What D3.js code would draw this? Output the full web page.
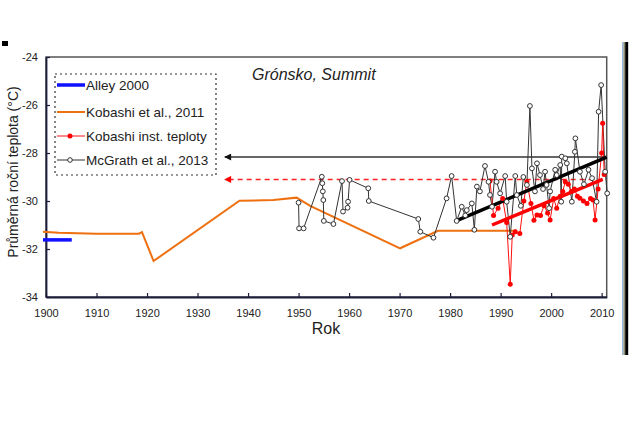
<!DOCTYPE html>
<html><head><meta charset="utf-8">
<script src="https://cdn.jsdelivr.net/npm/d3@7"></script>
<style>body{margin:0;background:#fff;}svg{display:block;font-family:"Liberation Sans",Arial,sans-serif;}</style>
</head><body>
<svg id="c" width="630" height="424"></svg>
<script>
const xTicks = [1900,1910,1920,1930,1940,1950,1960,1970,1980,1990,2000,2010];
const yTicks = [-34,-32,-30,-28,-26,-24];

const alleyYears = [1899.4, 1905.1];
const alleyValues = [-31.62, -31.62];

const kobashiYears = [1899.4,1902.5,1910,1918.4,1919.0,1921.3,1938.3,1945,1949.6,1952.3,1970.1,1977.6,1993.2];
const kobashiValues = [-31.28,-31.32,-31.36,-31.36,-31.3,-32.5,-29.99,-29.96,-29.86,-30.2,-31.97,-31.24,-31.24];

const instYears = [1987.9,1988.6,1989.5,1990.4,1991.2,1991.9,1992.3,1992.9,1993.8,1994.6,1995.2,1996.0,1996.6,1997.2,1997.9,1998.6,1999.3,1999.8,2000.5,2001.1,2001.8,2002.3,2002.8,2003.4,2004.0,2004.6,2005.2,2005.7,2006.4,2007.1,2007.8,2008.3,2008.7,2009.3,2010.0,2010.2,2010.5];
const instValues = [-29.17,-30.6,-30.3,-29.9,-30.9,-33.47,-31.42,-31.28,-31.35,-30.0,-29.2,-30.1,-30.8,-30.58,-30.6,-30.2,-30.5,-30.79,-29.9,-30.3,-29.8,-29.6,-29.2,-29.3,-29.6,-29.5,-29.8,-29.89,-30.0,-30.1,-29.9,-29.96,-30.79,-29.5,-28.0,-26.76,-28.9];

const mcgYears = [1950.0,1950.1,1951.0,1954.6,1954.7,1954.8,1954.9,1955.0,1956.9,1958.6,1958.8,1959.7,1959.8,1960.1,1963.8,1963.9,1973.7,1974.1,1976.7,1979.3,1980.3,1981.3,1982.3,1983.0,1983.3,1984.3,1984.8,1985.3,1985.9,1986.9,1987.6,1987.9,1988.3,1988.9,1989.2,1989.9,1990.9,1991.2,1991.9,1992.9,1993.2,1994.0,1994.5,1995.2,1995.8,1996.2,1996.8,1997.2,1997.8,1998.4,1998.8,1999.1,1999.6,1999.8,2000.8,2001.1,2001.8,2002.0,2002.1,2002.8,2003.1,2004.1,2004.7,2004.8,2005.7,2006.5,2007.4,2008.1,2009.0,2009.4,2009.9,2010.7,2011.1];
const mcgValues = [-30.07,-31.14,-31.14,-28.99,-29.26,-29.6,-29.96,-30.83,-30.96,-29.17,-30.44,-30.28,-30.03,-29.12,-29.47,-30.0,-30.75,-31.28,-31.53,-29.89,-28.96,-30.83,-30.24,-30.6,-30.38,-30.1,-31.2,-29.4,-29.6,-28.54,-29.2,-29.75,-30.24,-28.78,-29.2,-29.68,-28.96,-30.03,-31.49,-28.96,-29.75,-30.2,-29.0,-29.33,-26.04,-28.64,-29.6,-28.43,-28.92,-29.5,-28.78,-29.33,-30.3,-29.6,-28.7,-28.92,-28.5,-30.03,-28.15,-28.22,-28.43,-30.03,-27.95,-27.39,-28.78,-29.3,-28.7,-29.05,-30.03,-26.28,-25.17,-28.78,-29.68];

const blackTrendYears = [1981.3, 2011];
const blackTrendValues = [-30.82, -28.17];
const redTrendYears = [1988.3, 2010.2];
const redTrendValues = [-31.0, -29.1];
const blackArrowYears = [2011, 1935.4];
const blackArrowValue = -28.17;
const redArrowYears = [2010.2, 1935.4];
const redArrowValue = -29.1;

const legendLabels = ["Alley 2000","Kobashi et al., 2011","Kobashi inst. teploty","McGrath et al., 2013"];

const svg = d3.select("#c");
const x = d3.scaleLinear().domain([1900, 2011]).range([46, 606.7]);
const y = d3.scaleLinear().domain([-34, -24]).range([297, 57]);

const defs = svg.append("defs");
defs.append("marker").attr("id","ab").attr("viewBox","0 0 10 10").attr("refX",9).attr("refY",5)
  .attr("markerWidth",9).attr("markerHeight",7).attr("markerUnits","userSpaceOnUse").attr("orient","auto")
  .append("path").attr("d","M0,0L10,5L0,10Z").attr("fill","#111");
defs.append("marker").attr("id","ar").attr("viewBox","0 0 10 10").attr("refX",9).attr("refY",5)
  .attr("markerWidth",9).attr("markerHeight",7).attr("markerUnits","userSpaceOnUse").attr("orient","auto")
  .append("path").attr("d","M0,0L10,5L0,10Z").attr("fill","#ff0000");

// slide artifacts
svg.append("rect").attr("x",2).attr("y",41).attr("width",6).attr("height",5).attr("fill","#000");
svg.append("rect").attr("x",622.3).attr("y",42).attr("width",1).attr("height",313).attr("fill","#6fa0d0");
svg.append("rect").attr("x",623.5).attr("y",42).attr("width",1.6).attr("height",313).attr("fill","#8c8a6a");
svg.append("rect").attr("x",625.2).attr("y",42).attr("width",3).attr("height",313).attr("fill","#000");

// frame
svg.append("rect").attr("x",46).attr("y",57).attr("width",606.7-46).attr("height",240)
  .attr("fill","none").attr("stroke","#555").attr("stroke-width",1.5);

const line = d3.line().x(d=>x(d[0])).y(d=>y(d[1]));
const zip = (a,b)=>a.map((v,i)=>[v,b[i]]);

// axes
const xa = svg.append("g").attr("transform","translate(0,297)")
  .call(d3.axisBottom(x).tickValues(xTicks).tickFormat(d3.format("d")).tickSizeInner(-4).tickSizeOuter(0).tickPadding(12));
const ya = svg.append("g").attr("transform","translate(46,0)")
  .call(d3.axisLeft(y).tickValues(yTicks).tickFormat(d=>d).tickSizeInner(-4).tickSizeOuter(0).tickPadding(8));
[xa,ya].forEach(g=>{
  g.select(".domain").attr("stroke","#1c1c3c").attr("stroke-width",1.8);
  g.selectAll(".tick line").attr("stroke","#1c1c3c").attr("stroke-width",1.2);
  g.selectAll("text").attr("font-size",11).attr("fill","#222").attr("font-family","Liberation Sans, Arial, sans-serif");
});

// arrows
svg.append("line").attr("x1",x(blackArrowYears[0])).attr("x2",x(blackArrowYears[1]))
  .attr("y1",y(blackArrowValue)).attr("y2",y(blackArrowValue))
  .attr("stroke","#333").attr("stroke-width",1.5).attr("marker-end","url(#ab)");
svg.append("line").attr("x1",x(redArrowYears[0])).attr("x2",x(redArrowYears[1]))
  .attr("y1",y(redArrowValue)).attr("y2",y(redArrowValue))
  .attr("stroke","#ff2020").attr("stroke-width",1.5).attr("stroke-dasharray","5,4").attr("marker-end","url(#ar)");

// Kobashi 2011 (orange)
svg.append("path").datum(zip(kobashiYears,kobashiValues)).attr("d",line)
  .attr("fill","none").attr("stroke","#ee7010").attr("stroke-width",2);

// Alley
svg.append("path").datum(zip(alleyYears,alleyValues)).attr("d",line)
  .attr("fill","none").attr("stroke","#1010ff").attr("stroke-width",3.5);

// McGrath line
const mcg = zip(mcgYears,mcgValues);
svg.append("path").datum(mcg).attr("d",line).attr("fill","none").attr("stroke","#333").attr("stroke-width",1);

// Kobashi inst (red)
const inst = zip(instYears,instValues);
svg.append("path").datum(inst).attr("d",line).attr("fill","none").attr("stroke","#ff1010").attr("stroke-width",1);

// trends
svg.append("path").datum(zip(redTrendYears,redTrendValues)).attr("d",line)
  .attr("fill","none").attr("stroke","#ff0000").attr("stroke-width",3.5);
svg.append("path").datum(zip(blackTrendYears,blackTrendValues)).attr("d",line)
  .attr("fill","none").attr("stroke","#000").attr("stroke-width",3.5);

svg.append("g").selectAll("circle").data(inst).join("circle")
  .attr("cx",d=>x(d[0])).attr("cy",d=>y(d[1])).attr("r",2.5).attr("fill","#ff0000");
svg.append("g").selectAll("circle").data(mcg).join("circle")
  .attr("cx",d=>x(d[0])).attr("cy",d=>y(d[1])).attr("r",2.4).attr("fill","#fff").attr("stroke","#333").attr("stroke-width",1);

// title
svg.append("text").attr("x",252).attr("y",80).attr("font-size",16).attr("font-style","italic").attr("fill","#222").text("Grónsko, Summit");

// axis titles
svg.append("text").attr("x",326).attr("y",334).attr("text-anchor","middle").attr("font-size",16).attr("fill","#222").text("Rok");
svg.append("text").attr("transform","translate(18,172) rotate(-90)").attr("text-anchor","middle").attr("font-size",14).attr("fill","#222").text("Průměrná roční teplota (°C)");

// legend
svg.append("rect").attr("x",55).attr("y",74).attr("width",161).attr("height",101)
  .attr("fill","#fff").attr("stroke","#333").attr("stroke-width",1.2).attr("stroke-dasharray","2,3");
const ly = [85,112,136,160];
const lg = svg.append("g");
lg.append("line").attr("x1",57).attr("x2",85).attr("y1",ly[0]).attr("y2",ly[0]).attr("stroke","#1010ff").attr("stroke-width",3.5);
lg.append("line").attr("x1",57).attr("x2",85).attr("y1",ly[1]).attr("y2",ly[1]).attr("stroke","#ee7010").attr("stroke-width",2);
lg.append("line").attr("x1",57).attr("x2",85).attr("y1",ly[2]).attr("y2",ly[2]).attr("stroke","#ff1010").attr("stroke-width",1);
lg.append("circle").attr("cx",70).attr("cy",ly[2]).attr("r",2.5).attr("fill","#ff0000");
lg.append("line").attr("x1",57).attr("x2",85).attr("y1",ly[3]).attr("y2",ly[3]).attr("stroke","#333").attr("stroke-width",1);
lg.append("circle").attr("cx",70).attr("cy",ly[3]).attr("r",2.3).attr("fill","#fff").attr("stroke","#333");
lg.selectAll("text").data(legendLabels).join("text")
  .attr("x",86).attr("y",(d,i)=>ly[i]+4.5).attr("font-size",13.5).attr("fill","#222").text(d=>d);
</script>
</body></html>
